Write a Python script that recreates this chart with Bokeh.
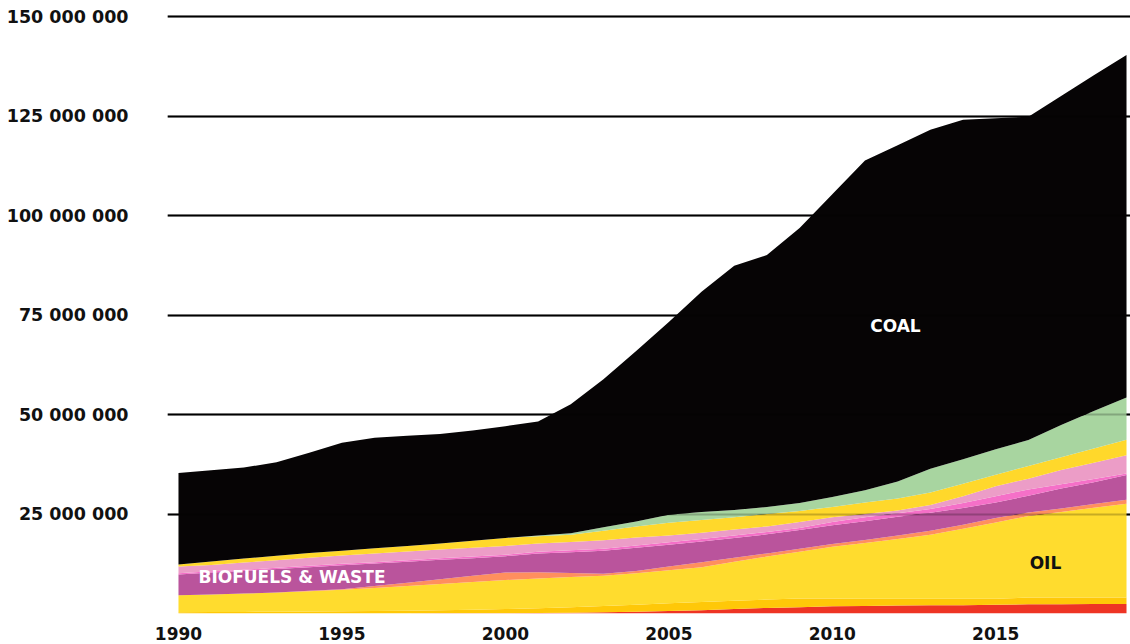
from bokeh.plotting import figure
from bokeh.models import ColumnDataSource, Range1d, FixedTicker, Grid, Label
from bokeh.embed import file_html
from bokeh.resources import INLINE

# ---- data (million TJ) ----
years = list(range(1990, 2020))

red_band = [0, 0, 0, 0, 0.02, 0.02, 0.03, 0.03, 0.04, 0.04,
            0.05, 0.1, 0.2, 0.3, 0.45, 0.6, 0.8, 1.1, 1.4, 1.6,
            1.8, 1.9, 2.0, 2.05, 2.1, 2.2, 2.3, 2.3, 2.4, 2.4]
amber_band = [0.3, 0.35, 0.4, 0.45, 0.48, 0.53, 0.57, 0.67, 0.76, 0.91,
              1.05, 1.2, 1.4, 1.6, 1.75, 2.0, 2.1, 2.1, 2.1, 2.2,
              2.0, 1.8, 1.7, 1.65, 1.6, 1.5, 1.7, 1.7, 1.6, 1.6]
oil = [4.3, 4.45, 4.6, 4.85, 5.1, 5.45, 5.8, 6.2, 6.6, 6.95,
       7.3, 7.5, 7.6, 7.6, 7.9, 8.3, 8.7, 9.8, 10.8, 11.7,
       13.0, 14.0, 15.0, 16.1, 17.6, 19.2, 20.5, 21.5, 22.6, 23.6]
salmon_band = [0, 0, 0, 0, 0.1, 0.1, 0.5, 0.8, 1.2, 1.6,
               1.9, 1.6, 1.0, 0.5, 0.6, 0.9, 1.3, 1.0, 0.8, 0.8,
               0.7, 0.8, 0.9, 1.0, 1.0, 1.1, 0.9, 0.9, 0.9, 1.0]
biofuels_waste = [5.2, 5.5, 5.7, 5.9, 5.9, 6.0, 5.7, 5.3, 4.9, 4.4,
                  4.1, 4.7, 5.2, 5.8, 5.8, 5.5, 5.2, 5.0, 4.8, 4.7,
                  4.7, 4.7, 4.7, 4.5, 4.2, 3.9, 4.2, 5.0, 5.5, 6.2]
hotpink_band = [0.3, 0.3, 0.3, 0.3, 0.4, 0.4, 0.3, 0.4, 0.4, 0.4,
                0.4, 0.4, 0.5, 0.5, 0.6, 0.6, 0.6, 0.6, 0.6, 0.5,
                0.8, 1.0, 0.9, 1.0, 1.3, 1.6, 1.6, 1.1, 0.8, 0.4]
lightpink_band = [1.7, 1.6, 1.8, 1.9, 2.0, 2.1, 2.2, 2.2, 2.2, 2.2,
                  2.2, 2.1, 2.1, 2.1, 2.0, 1.7, 1.6, 1.5, 1.4, 1.5,
                  1.2, 0.8, 0.7, 1.0, 1.7, 2.5, 2.7, 3.6, 4.1, 4.6]
yellow_band = [0.5, 0.9, 1.0, 1.1, 1.2, 1.2, 1.3, 1.4, 1.5, 1.8,
               2.0, 1.8, 1.8, 2.4, 2.8, 3.2, 3.2, 3.1, 3.1, 2.8,
               2.6, 2.9, 3.0, 3.1, 3.1, 2.9, 3.2, 3.2, 3.6, 3.9]
green_band = [0, 0, 0, 0, 0, 0, 0, 0, 0, 0,
              0, 0.2, 0.4, 0.9, 1.2, 2.0, 2.0, 1.8, 1.8, 2.0,
              2.5, 3.1, 4.3, 6.0, 6.2, 6.4, 6.5, 8.1, 9.4, 10.6]
coal = [23.0, 22.9, 22.9, 23.5, 25.2, 27.1, 27.8, 27.7, 27.5, 27.7,
        28.1, 28.7, 32.4, 37.2, 42.9, 48.5, 55.4, 61.4, 63.3, 69.1,
        76.1, 82.9, 84.5, 85.2, 85.3, 83.2, 81.3, 82.7, 84.4, 86.1]

layer_names = ["red_band", "amber_band", "oil", "salmon_band", "biofuels_waste",
               "hotpink_band", "lightpink_band", "yellow_band", "green_band", "coal"]
layer_values = [red_band, amber_band, oil, salmon_band, biofuels_waste,
                hotpink_band, lightpink_band, yellow_band, green_band, coal]
layer_colors = ["#EE3424", "#FFC808", "#FFDC2E", "#FF8F5E", "#BA549C",
                "#F570C8", "#EC9DC7", "#FFD82B", "#A8D5A0", "#060405"]

x_ticks = [1990, 1995, 2000, 2005, 2010, 2015]
y_ticks = [0, 25e6, 50e6, 75e6, 100e6, 125e6, 150e6]
y_tick_labels = ["", "25 000 000", "50 000 000", "75 000 000",
                 "100 000 000", "125 000 000", "150 000 000"]

data = {"year": years}
for name, vals in zip(layer_names, layer_values):
    data[name] = [v * 1e6 for v in vals]
source = ColumnDataSource(data)

X0, X1 = 1989.664, 2019.122

p = figure(width=1130, height=644, output_backend="svg", toolbar_location=None,
           x_range=Range1d(X0, X1), y_range=Range1d(0, 152.1e6),
           min_border_left=167, min_border_right=0, min_border_top=8,
           min_border_bottom=31)
p.outline_line_color = None
p.background_fill_color = "white"
p.border_fill_color = "white"

p.varea_stack(stackers=layer_names, x="year", color=layer_colors, source=source)

FONT = "DejaVu Sans"

p.xgrid.visible = False
p.ygrid.ticker = FixedTicker(ticks=y_ticks)
p.ygrid.grid_line_color = "black"
p.ygrid.grid_line_width = 2

over = Grid(dimension=1, ticker=FixedTicker(ticks=y_ticks), grid_line_color="black",
            grid_line_alpha=0.22, grid_line_width=2, level="guide")
p.add_layout(over)

p.xaxis.ticker = FixedTicker(ticks=x_ticks)
p.xaxis.major_label_overrides = {t: str(t) for t in x_ticks}
p.xaxis.axis_line_color = None
p.xaxis.major_tick_line_color = None
p.xaxis.minor_tick_line_color = None
p.xaxis.major_label_text_font = FONT
p.xaxis.major_label_text_font_style = "bold"
p.xaxis.major_label_text_font_size = "17px"
p.xaxis.major_label_text_color = "#111111"
p.xaxis.major_label_standoff = 7

p.yaxis.ticker = FixedTicker(ticks=y_ticks)
p.yaxis.major_label_overrides = {t: s for t, s in zip(y_ticks, y_tick_labels)}
p.yaxis.axis_line_color = None
p.yaxis.major_tick_line_color = None
p.yaxis.minor_tick_line_color = None
p.yaxis.major_label_text_font = FONT
p.yaxis.major_label_text_font_style = "bold"
p.yaxis.major_label_text_font_size = "17.5px"
p.yaxis.major_label_text_color = "#111111"
p.yaxis.major_label_standoff = 33

p.add_layout(Label(x=2011.93, y=72.2e6, text="COAL", text_color="white",
                   text_font=FONT, text_font_style="bold", text_font_size="17px",
                   text_align="center", text_baseline="middle"))
p.add_layout(Label(x=2016.52, y=12.65e6, text="OIL", text_color="#111111",
                   text_font=FONT, text_font_style="bold", text_font_size="17px",
                   text_align="center", text_baseline="middle"))
p.add_layout(Label(x=1990.61, y=9.1e6, text="BIOFUELS & WASTE", text_color="white",
                   text_font=FONT, text_font_style="bold", text_font_size="17px",
                   text_align="left", text_baseline="middle"))

open("out.html", "w").write(file_html(p, INLINE))
